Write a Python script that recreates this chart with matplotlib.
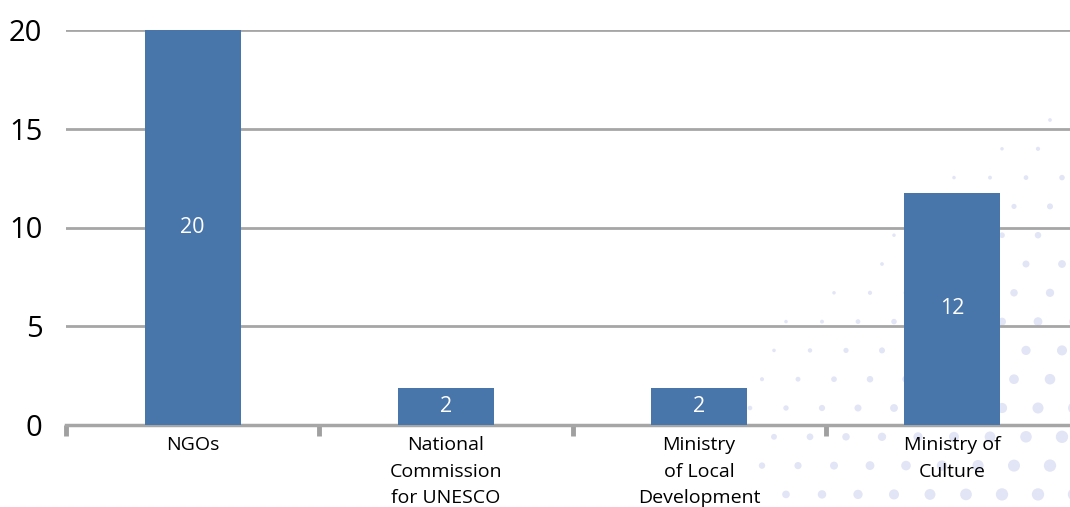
import numpy as np
import matplotlib
matplotlib.use('Agg')
import matplotlib.pyplot as plt

# data
categories = ['NGOs', 'National\nCommission\nfor UNESCO', 'Ministry\nof Local\nDevelopment', 'Ministry of\nCulture']
values = [20, 1.85, 1.85, 11.75]
value_labels = ['20', '2', '2', '12']
yticks = [0, 5, 10, 15, 20]

plt.rcParams['font.family'] = ['Open Sans', 'DejaVu Sans']

W, H = 1070, 507
fig = plt.figure(figsize=(W / 100, H / 100), dpi=100)

# decorative dot pattern in the lower right (background only)
bg = fig.add_axes([0, 0, 1, 1], zorder=0)
bg.set_xlim(0, W)
bg.set_ylim(H, 0)
bg.axis('off')
step = 36
xs, ys, ss = [], [], []
for j, y in enumerate(np.arange(120, H + 20, step * 0.8)):
    for x in np.arange(690 + (j % 2) * step / 2 + j * 6, W + 20, step):
        d = (y - (360 - 0.85 * (x - 760))) / 60.0
        if d < -0.3 or x < 740:
            continue
        r = min(2.0 + max(d, 0) * 0.9, 7.0)
        xs.append(x)
        ys.append(y)
        ss.append((r * 0.72) ** 2 * 3.1)
bg.scatter(xs, ys, s=ss, color='#e1e5f5', edgecolors='none')

ax = fig.add_axes([66 / W, (H - 425) / H, (1079 - 66) / W, (425 - 30) / H], zorder=1)
ax.patch.set_alpha(0)

x = np.arange(len(categories))
bars = ax.bar(x, values, width=0.38, color='#4875aa', zorder=3)
for b, lab in zip(bars, value_labels):
    ax.text(b.get_x() + b.get_width() / 2, b.get_height() / 2, lab,
            ha='center', va='center', color='white', fontsize=15.5, zorder=4)

ax.set_xlim(-0.5, 3.5)
ax.set_ylim(0, 20)
ax.set_yticks(yticks)
ax.set_yticklabels([str(v) for v in yticks], fontsize=21)
ax.yaxis.grid(True, color='#a6a6a6', linewidth=2)
ax.set_axisbelow(True)
ax.tick_params(axis='y', length=0, pad=17)

ax.set_xticks(x)
ax.set_xticklabels(categories, fontsize=14, linespacing=1.62)
ax.set_xticks([-0.5, 0.5, 1.5, 2.5, 3.5], minor=True)
ax.tick_params(axis='x', which='major', length=0, pad=8)
ax.tick_params(axis='x', which='minor', length=8, width=3.5, color='#a0a0a0')

for s in ['top', 'right', 'left']:
    ax.spines[s].set_visible(False)
ax.spines['bottom'].set_color('#a6a6a6')
ax.spines['bottom'].set_linewidth(2.5)

fig.savefig('out.png', dpi=100)
